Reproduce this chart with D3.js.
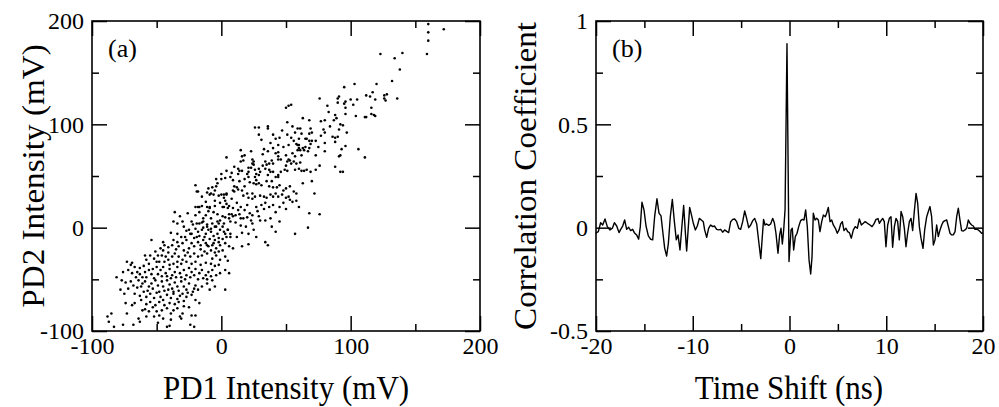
<!DOCTYPE html>
<html>
<head>
<meta charset="utf-8">
<script src="https://cdn.jsdelivr.net/npm/d3@7"></script>
<style>
body { margin: 0; background: #fff; }
svg text { font-family: "Liberation Serif", "Times New Roman", serif; fill: #000; }
</style>
</head>
<body>
<div id="chart"></div>
<script>
// (a) PD1 vs PD2 intensity, mV
const scatterPts = [
  [160,197],[172,192],[160,189],[160,181],[159,168],[123,168],[140,169],[134,164],[138,153],[132,142],
  [103,139],[95,136],[120,139],[91,127],[90,125],[90,121],[96,122],[95,120],[100,124],[105,124],
  [112,128],[115,127],[117,131],[119,124],[126,128],[128,129],[126,125],[127,123],[136,125],[96,116],
  [102,119],[116,116],[88,109],[89,106],[96,110],[104,108],[111,107],[112,107],[116,110],[118,109],
  [119,108],[92,100],[94,99],[91,95],[97,92],[86,88],[88,87],[90,88],[88,83],[96,79],
  [93,76],[106,76],[92,70],[91,69],[111,68],[88,59],[92,54],[94,54],
  [76,125],[82,118],[52,118],[54,119],[50,116],[63,106],[68,104],[51,102],[80,104],[77,103],
  [55,98],[59,96],[61,96],[36,98],[36,96],[26,97],[29,97],[69,96],[70,92],[68,91],
  [79,95],[80,92],[29,90],[31,85],[40,90],[42,86],[45,87],[38,82],[47,94],[54,87],
  [65,86],[66,86],[68,84],[70,84],[73,84],[58,81],[59,80],[60,80],[61,75],[59,75],
  [60,77],[63,77],[65,78],[67,74],[64,75],[69,81],[68,77],[80,82],[80,74],[33,76],
  [32,71],[36,74],[15,75],[23,74],[44,73],[42,72],[44,69],[44,66],[4,68],[16,69],
  [18,70],[15,64],[17,65],[24,66],[25,64],[24,62],[25,61],[34,64],[35,61],[37,62],
  [39,65],[52,66],[51,64],[53,65],[54,62],[56,64],[58,62],[61,63],[50,60],[49,56],
  [51,55],[44,51],[46,54],[57,56],[60,57],[62,55],[64,55],[66,56],[69,54],[73,56],
  [76,60],[63,43],[70,45],[10,59],[13,57],[14,55],[16,55],[21,58],[23,58],[21,54],
  [20,52],[26,56],[29,57],[27,52],[29,51],[30,54],[34,57],[37,56],[38,54],[36,51],
  [40,54],[42,49],[44,49],[-20,41],[-19,35],[-10,38],[-7,39],[-5,36],[-4,40],[-4,47],
  [0,47],[3,48],[7,49],[-8,33],[-6,32],[-2,31],[2,32],[2,29],[4,33],[9,46],
  [10,40],[12,39],[9,36],[10,35],[13,37],[16,36],[18,40],[21,49],[26,49],[27,46],
  [25,43],[27,42],[29,43],[31,41],[17,31],[20,33],[21,29],[24,28],[24,33],[26,30],
  [30,31],[33,30],[35,29],[38,32],[40,30],[35,45],[39,45],[37,40],[40,39],[43,39],
  [45,41],[48,36],[50,38],[53,40],[56,35],[58,33],[42,33],[44,30],[47,32],[50,29],
  [53,27],[55,25],[58,26],[60,20],[72,33],[68,14],[76,13],[67,0],[57,-6],[-20,20],
  [-17,20],[-11,20],[-9,19],[-5,21],[-1,24],[1,20],[4,23],[5,19],[8,13],[9,11],
  [11,12],[14,13],[15,9],[17,9],[20,10],[23,7],[24,4],[27,20],[29,11],[30,7],
  [34,7],[38,9],[39,1],[45,6],[42,-4],[-17,4],[-14,6],[-11,1],[-8,-1],[-5,1],
  [-2,4],[1,1],[2,-4],[5,-2],[7,-6],[12,-9],[16,-5],[21,-6],[25,-2],[27,-9],
  [-23,-6],[-19,-9],[-14,-12],[-11,-17],[-6,-15],[-2,-14],[4,-9],[9,-20],[16,-18],[21,-16],
  [34,-14],[36,-17],
  [-18,35],[-11,34],[-9,32],[0,32],[4,32],[-18,20],[-15,21],[-9,20],[-17,15],[-10,16],
  [2,20],[6,21],[-6,15],[-12,12],[-3,13],[1,11],[6,9],[-36,15],[-32,11],[-30,6],
  [-37,6],[-34,4],[-23,6],[-19,4],[-15,5],[-11,3],[-7,4],[-3,6],[2,4],[7,6],
  [-39,-5],[-29,1],[-25,-2],[-24,-6],[-28,-9],[-20,-1],[-18,-4],[-15,-2],[-12,-6],[-10,-2],
  [-8,-4],[-6,-8],[-3,-6],[-1,-2],[3,-6],[5,-2],[7,-9],[-54,-12],[-45,-14],[-44,-17],
  [-45,-22],[-41,-19],[-37,-12],[-34,-14],[-38,-17],[-33,-18],[-30,-15],[-27,-12],[-23,-15],[-21,-18],
  [-25,-20],[-18,-14],[-16,-17],[-12,-15],[-10,-18],[-7,-17],[-4,-20],[-1,-17],[3,-15],[6,-18],
  [-51,-23],[-49,-27],[-52,-30],[-50,-33],[-59,-27],[-58,-31],[-46,-27],[-43,-28],[-41,-31],[-38,-28],
  [-36,-25],[-33,-28],[-30,-31],[-34,-33],[-37,-35],[-28,-27],[-24,-28],[-21,-25],[-18,-28],[-15,-27],
  [-11,-25],[-7,-30],[-4,-27],[-1,-31],[3,-28],[5,-32],[-73,-33],[-70,-36],[-69,-34],[-67,-38],
  [-76,-43],[-72,-41],[-69,-44],[-65,-43],[-81,-48],[-63,-39],[-60,-37],[-59,-43],[-56,-41],[-54,-45],
  [-61,-48],[-58,-48],[-52,-49],[-50,-38],[-47,-41],[-45,-38],[-43,-44],[-40,-40],[-38,-46],[-36,-43],
  [-34,-38],[-32,-44],[-29,-41],[-27,-46],[-25,-39],[-23,-43],[-20,-40],[-17,-44],[-15,-41],[-12,-46],
  [-10,-43],[-7,-41],[-4,-46],[-1,-44],[3,-41],[6,-44],[-77,-51],[-74,-53],[-70,-52],[-68,-56],
  [-72,-59],[-78,-60],[-75,-64],[-64,-51],[-61,-54],[-59,-52],[-56,-57],[-54,-54],[-51,-51],[-49,-56],
  [-46,-52],[-45,-57],[-42,-51],[-40,-55],[-38,-59],[-36,-53],[-34,-57],[-31,-52],[-29,-57],[-27,-60],
  [-25,-54],[-21,-59],[-20,-56],[-18,-60],[-15,-57],[-11,-54],[-9,-60],[-7,-51],[-5,-57],[3,-60],
  [-67,-64],[-63,-66],[-60,-62],[-58,-67],[-55,-64],[-52,-68],[-50,-63],[-47,-67],[-45,-70],[-42,-65],
  [-39,-68],[-37,-64],[-34,-69],[-32,-66],[-29,-71],[-27,-67],[-23,-65],[-20,-70],[-17,-73],[-74,-73],
  [-69,-75],[-67,-73],[-61,-80],[-59,-79],[-56,-81],[-53,-77],[-50,-81],[-48,-85],[-46,-80],[-42,-78],
  [-39,-83],[-37,-80],[-34,-78],[-32,-86],[-30,-83],[-23,-85],[-20,-85],[-88,-86],[-85,-83],[-73,-83],
  [-64,-88],[-58,-86],[-52,-86],[-45,-88],[-39,-89],[-87,-91],[-83,-96],[-76,-94],[-68,-94],[-63,-91],
  [-49,-92],[-42,-96],[-40,-95],[-31,-88],[-24,-94],[-21,-96],
  [-62,-57],[-57,-61],[-53,-59],[-48,-62],[-44,-61],[-41,-60],[-37,-62],[-33,-61],[-30,-64],[-26,-63],
  [-22,-62],[-48,-72],[-44,-75],[-40,-73],[-36,-74],[-33,-72],[-29,-76],[-25,-77],[-55,-72],[-51,-75],
  [-58,-74],[-62,-70],[-65,-58],[-66,-48],[-63,-45],[-56,-35],[-53,-40],[-49,-45],[-46,-47],[-42,-47],
  [-39,-49],[-35,-48],[-31,-48],[-28,-50],[-24,-48],[-21,-46],[-18,-50],[-14,-49],[-11,-50],[-8,-47],
  [-44,-33],[-40,-36],[-31,-35],[-27,-33],[-23,-35],[-20,-33],[-16,-36],[-12,-34],[-8,-35],[-5,-37],
  [-2,-36],[-48,-33],[-55,-27],[-47,-20],[-41,-24],[-35,-21],[-29,-22],[-26,-24],[-16,-21],[-13,-23],
  [-8,-22],[-5,-24],[-2,-23],[1,-22],[-31,-9],[-34,-6],[-21,-10],[-17,-8],[-13,-9],[-9,-11],
  [-5,-12],[-2,-10],[1,-11],[-27,-3],[-22,3],[-14,0],[-4,1],[-1,7],[3,10],[-8,9],
  [-14,9],[-20,12],[-26,14],[-5,26],[-12,25],[-15,30],[3,26],[8,28],[12,24],[15,20],
  [18,17],[20,22],[22,14],[13,17],[9,19],[6,13],[11,5],[15,2],[19,1],[24,12],
  [28,16],[31,22],[33,18],[34,24],[37,20],[40,22],[42,15],[45,20],[48,24],[50,18],
  [52,30],[14,45],[18,47],[22,44],[13,52],[8,53],[4,55],[0,52],[-3,43],[32,60],
  [40,62],[46,66],[50,70],[55,72],[57,69],[48,78],[52,80],[56,84],[44,80],[40,77],
  [62,70],[73,70],[75,78],[77,89],[84,98],[87,104],[83,112],[60,86],[62,91],[57,92],
  [51,90]
];

// (b) correlation coefficient vs time shift (ns)
const lagTimes = [
  -20.03,-19.76,-19.52,-19.31,-19.07,-18.83,-18.55,-18.31,-18.10,-17.86,-17.62,-17.45,-17.24,-17.04,-16.83,
  -16.62,-16.42,-16.21,-16.04,-15.80,-15.59,-15.42,-15.25,-15.04,-14.83,-14.59,-14.35,-14.14,-13.94,-13.70,
  -13.49,-13.28,-13.08,-12.90,-12.70,-12.52,-12.32,-12.11,-11.90,-11.70,-11.52,-11.32,-11.11,-10.94,-10.77,
  -10.63,-10.49,-10.32,-10.11,-9.94,-9.73,-9.53,-9.32,-9.11,-8.91,-8.77,-8.56,-8.36,-8.15,-7.94,
  -7.76,-7.53,-7.32,-7.11,-6.91,-6.70,-6.49,-6.29,-6.08,-5.87,-5.67,-5.46,-5.25,-5.05,-4.84,
  -4.63,-4.43,-4.22,-4.01,-3.80,-3.60,-3.39,-3.15,-2.97,-2.85,-2.68,-2.53,-2.36,-2.15,-1.95,
  -1.74,-1.57,-1.40,-1.19,-1.02,-0.88,-0.74,-0.60,-0.46,-0.26,-0.05,0.16,0.29,0.43,0.60,
  0.78,0.95,1.15,1.33,1.50,1.67,1.84,2.02,2.19,2.33,2.46,2.64,2.81,2.98,3.15,
  3.33,3.50,3.70,3.84,4.01,4.19,4.36,4.53,4.74,4.94,5.12,5.29,5.46,5.63,5.84,
  6.01,6.19,6.39,6.60,6.80,7.01,7.22,7.43,7.63,7.80,7.98,8.15,8.32,8.53,8.73,
  8.94,9.15,9.29,9.46,9.63,9.80,9.97,10.15,10.32,10.49,10.66,10.84,11.01,11.18,11.35,
  11.53,11.70,11.87,12.04,12.21,12.39,12.56,12.73,12.90,13.08,13.25,13.42,13.59,13.80,13.97,
  14.18,14.35,14.52,14.69,14.87,15.04,15.21,15.38,15.56,15.73,15.90,16.07,16.25,16.42,16.59,
  16.76,16.93,17.11,17.28,17.45,17.62,17.79,17.97,18.14,18.31,18.48,18.66,18.83,19.00,19.17,
  19.35,19.52,19.69,19.86,20.00
];
const corrValues = [
  -0.027,-0.019,0.024,0.013,0.042,0.005,-0.011,-0.003,0.024,0.008,-0.024,-0.008,0.008,0.037,-0.008,
  0.002,-0.014,-0.008,-0.024,-0.035,-0.056,0.005,0.123,0.086,0.008,-0.040,-0.056,-0.059,0.053,0.140,
  0.070,0.057,-0.027,-0.100,-0.137,-0.076,0.053,0.137,0.029,-0.059,-0.035,-0.108,0.013,0.107,-0.019,
  -0.113,-0.019,0.098,0.057,0.021,-0.011,0.008,0.045,0.037,0.029,-0.011,-0.047,-0.003,0.013,0.005,
  0.008,-0.008,-0.011,-0.008,-0.022,-0.011,-0.018,-0.024,0.029,0.040,0.042,0.029,-0.003,-0.008,0.029,
  0.081,0.045,0.000,0.013,0.034,0.045,0.018,-0.079,-0.150,-0.070,0.040,0.013,0.018,0.011,0.018,
  0.045,0.024,-0.027,-0.124,-0.035,-0.003,-0.079,-0.011,0.086,0.890,-0.164,-0.011,-0.003,-0.108,-0.043,
  -0.027,0.005,0.034,0.040,0.037,0.086,0.005,-0.156,-0.224,-0.140,0.070,0.037,0.045,0.037,-0.019,
  0.029,0.061,0.053,0.070,0.098,0.029,0.037,0.013,-0.003,-0.027,-0.011,0.018,0.029,-0.014,-0.003,
  -0.019,-0.024,-0.051,-0.011,0.005,-0.003,0.042,0.013,0.021,0.029,0.024,0.018,0.013,0.005,0.018,
  0.040,0.044,0.021,0.034,0.045,0.029,-0.092,0.013,0.045,0.053,-0.095,0.005,0.045,0.029,-0.059,
  0.078,0.053,-0.003,-0.092,-0.027,0.029,0.045,-0.014,0.078,0.166,0.118,0.005,-0.051,-0.100,-0.011,
  0.053,0.078,0.102,0.053,-0.084,-0.059,0.013,-0.043,-0.011,0.013,0.029,0.034,0.037,0.005,-0.027,
  -0.035,-0.035,-0.019,0.053,0.094,0.037,-0.014,-0.016,-0.011,-0.003,0.037,0.021,0.013,0.008,-0.008,
  -0.008,-0.011,-0.019,-0.027,-0.025
];

const xTicksA = [-100, 0, 100, 200];
const xMinorA = [-50, 50, 150];
const yTicksA = [-100, 0, 100, 200];
const yMinorA = [-50, 50, 150];
const xTicksB = [-20, -10, 0, 10, 20];
const xMinorB = [-15, -5, 5, 15];
const yTicksB = [-0.5, 0, 0.5, 1];
const yMinorB = [-0.25, 0.25, 0.75];

const width = 999;
const height = 407;
const plotTop = 21;
const plotBottom = 331;
const majorLen = 15;
const minorLen = 7;
const tickFont = 24;
const titleFont = 31;
const stretch = 1.07;   // the picture's glyphs are a little taller than wide

let svg = d3.select("#chart").append("svg")
  .attr("width", width)
  .attr("height", height);

svg.append("rect").attr("width", width).attr("height", height).attr("fill", "#fff");

function drawAxes(g, x, y, xMajor, xMinor, yMajor, yMinor) {
  let fmt = d => String(d);
  let left = x.range()[0], right = x.range()[1];

  let axes = [
    [d3.axisBottom(x).tickValues(xMajor).tickSize(-majorLen).tickPadding(6).tickFormat(fmt), 0, plotBottom],
    [d3.axisBottom(x).tickValues(xMinor).tickSize(-minorLen).tickFormat(""), 0, plotBottom],
    [d3.axisTop(x).tickValues(xMajor).tickSize(-majorLen).tickFormat(""), 0, plotTop],
    [d3.axisTop(x).tickValues(xMinor).tickSize(-minorLen).tickFormat(""), 0, plotTop],
    [d3.axisLeft(y).tickValues(yMajor).tickSize(-majorLen).tickPadding(8).tickFormat(fmt), left, 0],
    [d3.axisLeft(y).tickValues(yMinor).tickSize(-minorLen).tickFormat(""), left, 0],
    [d3.axisRight(y).tickValues(yMajor).tickSize(-majorLen).tickFormat(""), right, 0],
    [d3.axisRight(y).tickValues(yMinor).tickSize(-minorLen).tickFormat(""), right, 0]
  ];

  axes.forEach(a => {
    g.append("g")
      .attr("transform", `translate(${ a[1] }, ${ a[2] })`)
      .call(a[0])
      .attr("font-size", tickFont)
      .call(s => s.select(".domain").remove())
      .call(s => s.selectAll(".tick line").attr("stroke", "#000").attr("stroke-width", 1.5));
  });

  g.append("rect")
    .attr("x", left)
    .attr("y", plotTop)
    .attr("width", right - left)
    .attr("height", plotBottom - plotTop)
    .attr("fill", "none")
    .attr("stroke", "#000")
    .attr("stroke-width", 1.6);
}

function addTitle(g, x, y, text, vertical) {
  let transform = vertical
    ? `translate(${ x }, ${ y }) rotate(-90) scale(${ stretch }, 1)`
    : `translate(${ x }, ${ y }) scale(1, ${ stretch })`;
  g.append("text")
    .attr("transform", transform)
    .attr("text-anchor", "middle")
    .attr("font-size", titleFont)
    .text(text);
}

// panel (a)
let xA = d3.scaleLinear().domain([-100, 200]).range([92, 480]);
let yA = d3.scaleLinear().domain([-100, 200]).range([plotBottom, plotTop]);
let gA = svg.append("g");

gA.selectAll("circle")
  .data(scatterPts)
  .enter()
  .append("circle")
    .attr("cx", d => xA(d[0]))
    .attr("cy", d => yA(d[1]))
    .attr("r", 1.3)
    .attr("fill", "#000");

drawAxes(gA, xA, yA, xTicksA, xMinorA, yTicksA, yMinorA);

gA.append("text").attr("x", 108).attr("y", 57).attr("font-size", 26).text("(a)");
addTitle(gA, 286, 399, "PD1 Intensity (mV)", false);
addTitle(gA, 44, (plotTop + plotBottom) / 2, "PD2 Intensity (mV)", true);

// panel (b)
let xB = d3.scaleLinear().domain([-20, 20]).range([596, 983]);
let yB = d3.scaleLinear().domain([-0.5, 1]).range([plotBottom, plotTop]);
let gB = svg.append("g");

let line = d3.line()
  .x((d, i) => xB(lagTimes[i]))
  .y(d => yB(d));

gB.append("path")
  .datum(corrValues)
  .attr("d", line)
  .attr("fill", "none")
  .attr("stroke", "#000")
  .attr("stroke-width", 1.4)
  .attr("stroke-linejoin", "round");

drawAxes(gB, xB, yB, xTicksB, xMinorB, yTicksB, yMinorB);

gB.append("text").attr("x", 612).attr("y", 57).attr("font-size", 26).text("(b)");
addTitle(gB, 789, 399, "Time Shift (ns)", false);
addTitle(gB, 536, (plotTop + plotBottom) / 2, "Correlation Coefficient", true);
</script>
</body>
</html>
